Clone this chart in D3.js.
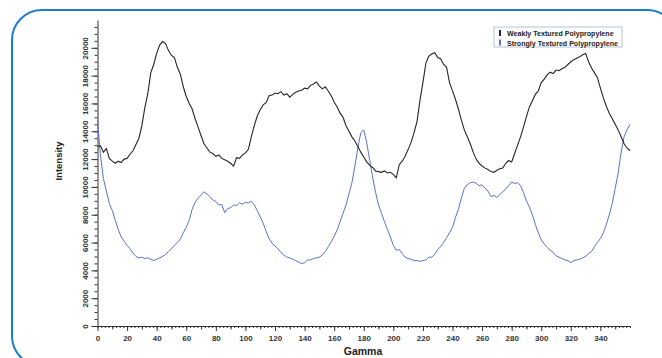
<!DOCTYPE html>
<html>
<head>
<meta charset="utf-8">
<script src="https://cdn.jsdelivr.net/npm/d3@7"></script>
<style>
  body { margin: 0; background: #fff; }
  svg { display: block; font-family: "Liberation Sans", Arial, sans-serif; }
</style>
</head>
<body>
<svg id="canvas" width="662" height="358"></svg>
<script>
// Gamma values, one sample every 2 degrees
let gamma = d3.range(0, 361, 2);

// Weakly textured series (black)
let weakly = [
  12900, 12950, 12500, 12750, 12050, 11850, 11700, 11850, 11750, 12000,
  12050, 12350, 12600, 13050, 13500, 14400, 15700, 16700, 18200, 18800,
  19600, 20200, 20450, 20300, 19800, 19450, 19300, 18600, 18100, 17200,
  16500, 16000, 15600, 14900, 14300, 13700, 13100, 12800, 12500, 12400,
  12200, 12300, 12050, 11950, 11850, 11700, 11500, 12100, 12050, 12300,
  12450, 12700, 13600, 14400, 15100, 15550, 15900, 16050, 16550, 16600,
  16750, 16700, 16850, 16600, 16700, 16450, 16650, 16800, 16900, 16950,
  17100, 17050, 17300, 17400, 17550, 17250, 17050, 17200, 16900, 16550,
  16100, 15750, 15300, 15000, 14400, 14000, 13600, 13300, 12900, 12500,
  12150, 11800, 11550, 11400, 11150, 11100, 11050, 11150, 11000, 11050,
  10900, 10650, 11600, 11850, 12200, 12700, 13200, 13900, 14700, 16200,
  17500, 18900, 19400, 19550, 19650, 19300, 19200, 18800, 18600, 17500,
  16900, 16300, 15600, 14800, 14100, 13600, 13100, 12500, 12000, 11700,
  11500, 11350, 11250, 11100, 11050, 11200, 11300, 11350, 11700, 11900,
  11800, 12400, 13000, 13600, 14300, 15050, 15750, 16200, 16650, 16900,
  17500, 17750, 18050, 18250, 18150, 18400, 18350, 18500, 18600, 18800,
  19000, 19150, 19250, 19350, 19500, 19600, 19000, 18550, 18200, 17850,
  17100, 16400, 15800, 15300, 14900, 14500, 14100, 13600, 13100, 12800,
  12600
];

// Strongly textured series (blue)
let strongly = [
  14800, 12300, 10600, 9700, 8800, 8300, 7600, 6950, 6400, 6100,
  5800, 5550, 5250, 5000, 4900, 4950, 4850, 4900, 4800, 4700,
  4800, 4900, 5000, 5150, 5350, 5550, 5800, 6000, 6250, 6700,
  7100, 7600, 8400, 8900, 9200, 9400, 9650, 9500, 9300, 9050,
  8950, 8700, 8750, 8150, 8450, 8500, 8700, 8650, 8850, 8750,
  8900, 8850, 8950, 8700, 8300, 7850, 7400, 6800, 6300, 5950,
  5750, 5550, 5300, 5100, 4950, 4900, 4800, 4700, 4600, 4480,
  4550, 4750, 4750, 4850, 4900, 4950, 5100, 5350, 5700, 6050,
  6450, 6900, 7500, 8100, 8700, 9500, 10300, 11500, 12800, 13900,
  14100, 13200, 11900, 10700, 9600, 8700, 8100, 7500, 6950, 6400,
  5800, 5450, 5500, 5200, 4950, 4850, 4800, 4700, 4700, 4650,
  4700, 4750, 4950, 4950, 5150, 5500, 5700, 6000, 6350, 6700,
  7100, 7800, 8400, 9200, 9900, 10150, 10300, 10350, 10250, 10100,
  10150, 9900, 9700, 9300, 9400, 9250, 9450, 9650, 9850, 10100,
  10350, 10250, 10300, 10100, 9600, 9000, 8550, 8000, 7300, 6700,
  6200, 5900, 5650, 5450, 5300, 5050, 4950, 4850, 4750, 4700,
  4550, 4700, 4750, 4800, 4900, 5000, 5200, 5350, 5700, 6000,
  6300, 6700, 7300, 8000, 8800, 9900, 11000, 12500, 13600, 14100,
  14500
];

// Ticks and labels
let xMajorTicks = d3.range(0, 341, 20);
let xMinorTicks = d3.range(0, 360.1, 2.5);
let yMajorTicks = d3.range(0, 20001, 2000);
let yMinorTicks = d3.range(0, 21501, 500);
let seriesNames = ['Weakly Textured Polypropylene', 'Strongly Textured Polypropylene'];
let seriesColors = ['#262626', '#5a72c8'];

let canvas = d3.select('#canvas');

// Rounded blue frame
canvas.append('rect')
  .attr('x', 12).attr('y', 10)
  .attr('width', 665).attr('height', 356)
  .attr('rx', 30).attr('ry', 30)
  .attr('fill', 'none')
  .attr('stroke', '#1a7dd0')
  .attr('stroke-width', 2);

// Scales
let x = d3.scaleLinear().domain([0, 360]).range([97.5, 630]);
let y = d3.scaleLinear().domain([0, 22000]).range([326, 20]);

// Y axis
let yAxisG = canvas.append('g').attr('transform', 'translate(97.5,0)');
yAxisG.append('g')
  .call(d3.axisLeft(y).tickValues(yMinorTicks).tickSize(3).tickFormat(''))
  .call(g => g.select('.domain').remove());
yAxisG.append('g')
  .call(d3.axisLeft(y).tickValues(yMajorTicks).tickSize(6).tickSizeOuter(0).tickFormat(d3.format('d')))
  .call(g => g.selectAll('text')
    .attr('x', null).attr('dy', null)
    .attr('text-anchor', 'middle')
    .attr('dominant-baseline', 'central')
    .attr('transform', 'translate(-12,0) rotate(-90)'));
yAxisG.selectAll('line, path').attr('stroke', '#333');
yAxisG.selectAll('text')
  .attr('font-size', 8).attr('font-weight', 'bold').attr('fill', '#333')
  .attr('font-family', '"Liberation Sans", Arial, sans-serif');

// X axis
let xAxisG = canvas.append('g').attr('transform', 'translate(0,326)');
xAxisG.append('g')
  .call(d3.axisBottom(x).tickValues(xMinorTicks).tickSize(2).tickFormat(''))
  .call(g => g.select('.domain').remove());
xAxisG.append('g')
  .call(d3.axisBottom(x).tickValues(d3.range(10, 351, 20)).tickSize(3.5).tickFormat(''))
  .call(g => g.select('.domain').remove());
xAxisG.append('g')
  .call(d3.axisBottom(x).tickValues(xMajorTicks).tickSize(5).tickSizeOuter(0).tickPadding(4));
xAxisG.selectAll('line, path').attr('stroke', '#333');
xAxisG.selectAll('text')
  .attr('font-size', 8).attr('font-weight', 'bold').attr('fill', '#333')
  .attr('font-family', '"Liberation Sans", Arial, sans-serif');

// Axis titles
canvas.append('text')
  .attr('x', 363).attr('y', 355)
  .attr('text-anchor', 'middle')
  .attr('font-size', 10.5).attr('font-weight', 'bold').attr('fill', '#222')
  .text('Gamma');
canvas.append('text')
  .attr('transform', 'translate(62,161) rotate(-90)')
  .attr('text-anchor', 'middle')
  .attr('font-size', 9.5).attr('font-weight', 'bold').attr('fill', '#222')
  .text('Intensity');

// Lines
let line = d3.line()
  .x((d, i) => x(gamma[i]))
  .y((d) => y(d));

canvas.append('path')
  .datum(strongly)
  .attr('d', line)
  .attr('fill', 'none')
  .attr('stroke', seriesColors[1])
  .attr('stroke-width', 1);

canvas.append('path')
  .datum(weakly)
  .attr('d', line)
  .attr('fill', 'none')
  .attr('stroke', seriesColors[0])
  .attr('stroke-width', 1.1);

// Legend
let legend = canvas.append('g').attr('transform', 'translate(494,27)');
legend.append('rect')
  .attr('width', 128).attr('height', 20)
  .attr('fill', '#fff')
  .attr('stroke', '#b4c3d6')
  .attr('stroke-width', 1);
seriesNames.forEach((name, i) => {
  legend.append('rect')
    .attr('x', 5).attr('y', 3 + i * 9.5)
    .attr('width', 2).attr('height', 6)
    .attr('fill', seriesColors[i]);
  legend.append('text')
    .attr('x', 13).attr('y', 9 + i * 9.5)
    .attr('font-size', 7.1).attr('font-weight', 'bold').attr('fill', '#222')
    .text(name);
});
</script>
</body>
</html>
